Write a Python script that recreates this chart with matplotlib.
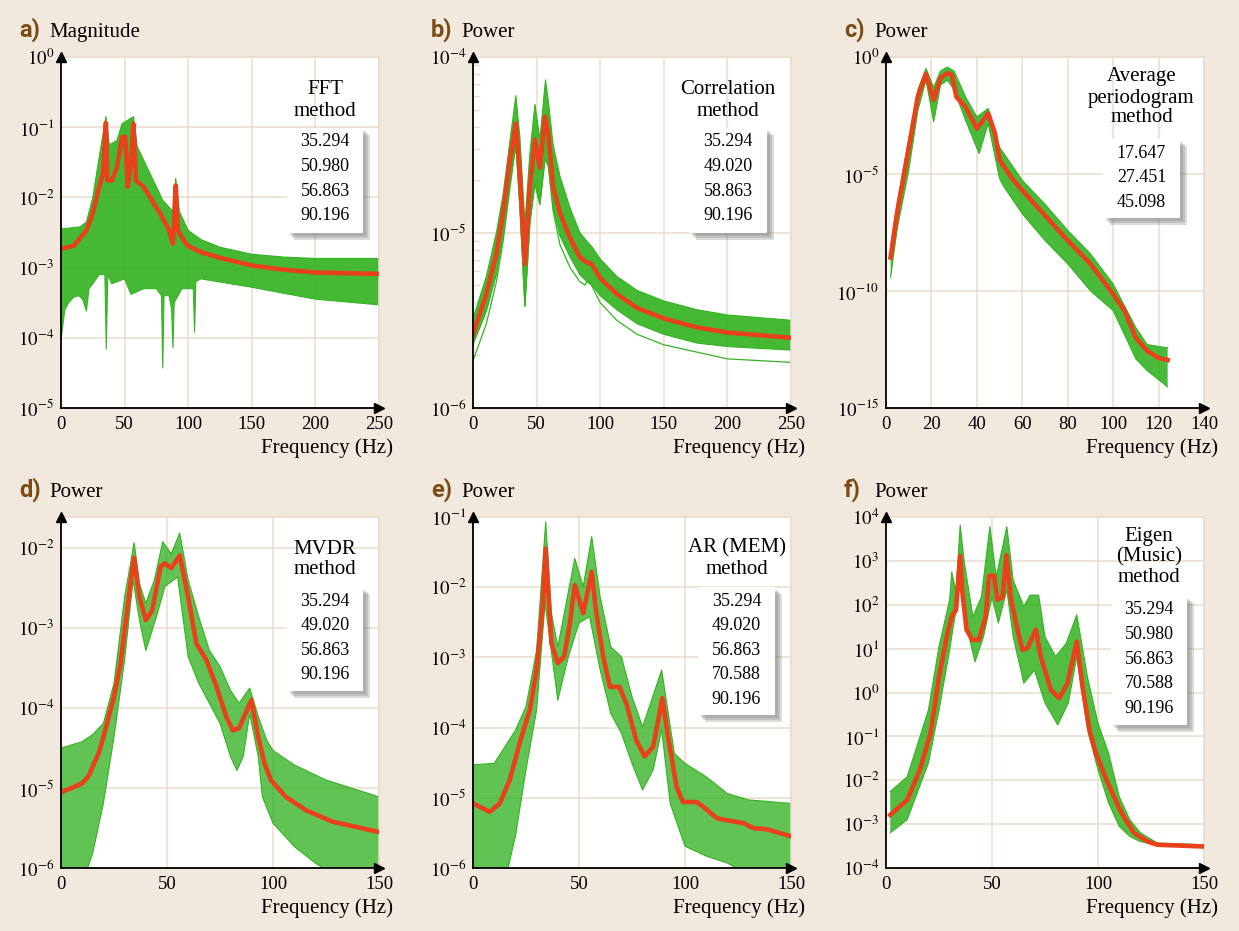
import numpy as np
import matplotlib
matplotlib.use("Agg")
import matplotlib.pyplot as plt
from matplotlib.patches import Rectangle
import matplotlib.ticker as ticker

plt.rcParams['mathtext.fontset'] = 'stix'
plt.rcParams['font.family'] = ['Liberation Serif', 'DejaVu Serif']

W, H = 1239, 931
BG = '#f2e9de'
GRID = '#eadccb'
GREEN = '#35b323'
RED = '#e8411c'
BROWN = '#7b4b12'

# values are log10 of magnitude / power

# a) FFT method
a_f_mean = [0, 10, 20, 25, 30, 33, 35.3, 36.5, 40, 44, 48, 50.5, 52.5, 55, 56.9, 59, 65, 70, 78, 85, 88,
            90.2, 92, 96, 100, 110, 125, 150, 175, 200, 250]
a_mean = [-2.73, -2.69, -2.47, -2.23, -1.85, -1.66, -0.94, -1.76, -1.76, -1.57, -1.14, -1.14, -1.85, -1.5,
          -0.95, -1.76, -1.85, -2.0, -2.23, -2.47, -2.66, -1.83, -2.47, -2.6, -2.69, -2.78, -2.86, -2.97,
          -3.03, -3.07, -3.09]
a_f_hi = [0, 15, 20, 25, 30, 35.3, 38, 44, 48, 57, 60, 70, 80, 88, 90.2, 93, 100, 110, 125, 150, 175, 200, 250]
a_hi = [-2.45, -2.42, -2.35, -2.0, -1.43, -0.85, -1.25, -1.19, -0.95, -0.85, -1.28, -1.66, -2.04, -2.2,
        -1.73, -2.2, -2.47, -2.6, -2.71, -2.81, -2.85, -2.87, -2.87]
a_f_lo = [0, 3, 6, 10, 14, 17, 20, 22, 25, 30, 34.5, 35.6, 36.8, 40, 50, 55, 65, 75, 79, 80, 81, 85, 87,
          88, 89, 95, 104, 105, 106, 110, 150, 200, 250]
a_lo = [-4.04, -3.6, -3.5, -3.42, -3.4, -3.45, -3.62, -3.3, -3.23, -3.1, -3.1, -4.16, -3.1, -3.23, -3.16,
        -3.38, -3.3, -3.3, -3.4, -4.43, -3.4, -3.4, -3.6, -4.14, -3.5, -3.3, -3.3, -3.92, -3.2, -3.16,
        -3.28, -3.45, -3.53]

# b) correlation method
b_f_mean = [0, 10.5, 18.4, 23.7, 29, 33.7, 36.8, 40.8, 44.7, 48.7, 52.6, 56.6, 59.2, 63, 68.4, 76.3, 84,
            89.5, 93.4, 100, 113, 129, 150, 176, 200, 250]
b_mean = [-5.58, -5.35, -5.12, -4.89, -4.59, -4.38, -4.66, -5.18, -4.74, -4.47, -4.63, -4.34, -4.44, -4.74,
          -4.89, -5.03, -5.14, -5.17, -5.18, -5.26, -5.35, -5.43, -5.49, -5.54, -5.57, -5.6]
b_f_hi = [0, 10.5, 18.4, 23.7, 29, 33.7, 36.8, 40.8, 44.7, 48.7, 52.6, 57, 59.2, 63, 68.4, 76.3, 84, 89.5,
          93.4, 100, 113, 129, 150, 176, 200, 250]
b_hi = [-5.49, -5.25, -5.0, -4.78, -4.48, -4.22, -4.45, -4.95, -4.55, -4.27, -4.47, -4.13, -4.25, -4.5,
        -4.68, -4.86, -5.0, -5.05, -5.08, -5.15, -5.25, -5.33, -5.39, -5.44, -5.47, -5.5]
b_f_lo = [0, 10.5, 18.4, 23.7, 29, 33.7, 36.8, 40.8, 44.7, 48.7, 52.6, 56.6, 59.2, 63, 68.4, 76.3, 84,
          89.5, 93.4, 100, 113, 129, 150, 176, 200, 250]
b_lo = [-5.64, -5.45, -5.24, -5.02, -4.72, -4.5, -4.85, -5.42, -4.95, -4.72, -4.84, -4.58, -4.62, -4.86,
        -5.02, -5.14, -5.24, -5.28, -5.3, -5.36, -5.44, -5.52, -5.58, -5.63, -5.65, -5.67]
# the low-lying single lines of panel b
b_f_out = [0, 10.5, 18.4, 23.7, 29, 33.7, 36.8, 40.8, 44.7, 48.7, 52.6, 56.6, 59.2, 63, 68.4, 76.3, 84,
           88, 91, 100, 113, 129, 150, 200, 250]
b_out = [-5.73, -5.52, -5.28, -5.05, -4.75, -4.5, -4.85, -5.42, -4.95, -4.72, -4.84, -4.58, -4.62, -4.88,
         -5.07, -5.2, -5.28, -5.3, -5.27, -5.4, -5.5, -5.58, -5.64, -5.72, -5.74]

# c) average periodogram method
c_f_mean = [2, 5, 10, 14, 17.6, 21, 24, 27, 29, 31, 35, 40, 45, 48, 50, 55, 60, 70, 80, 90, 100, 105, 110,
            115, 120, 124]
c_mean = [-8.57, -6.6, -3.9, -1.7, -0.73, -1.84, -0.9, -0.69, -0.76, -1.71, -2.13, -3.06, -2.41, -3.27,
          -4.41, -5.13, -5.7, -6.77, -7.84, -8.84, -10.13, -10.84, -12.0, -12.56, -12.86, -12.95]
c_f_hi = [2, 5, 10, 14, 17.6, 21, 24, 27, 30, 35, 40, 45, 50, 60, 70, 80, 90, 100, 110, 115, 124]
c_hi = [-8.14, -6.2, -3.5, -1.4, -0.49, -1.3, -0.6, -0.43, -0.6, -1.7, -2.56, -2.2, -3.86, -5.27, -6.29,
        -7.41, -8.41, -9.7, -11.57, -12.29, -12.43]
c_f_lo = [2, 5, 10, 14, 17.6, 21, 24, 27, 30, 35, 41, 45, 50, 52, 60, 70, 80, 90, 100, 110, 115, 124]
c_lo = [-9.43, -7.3, -4.86, -2.3, -0.99, -2.77, -1.2, -0.99, -1.41, -2.7, -4.13, -2.84, -5.2, -5.56, -6.7,
        -7.84, -8.84, -9.99, -10.84, -12.9, -13.4, -14.1]

# d) MVDR method
d_f_mean = [0, 5, 10, 13, 15, 18, 20, 25, 28, 30, 33, 34.5, 37, 40, 43, 47, 49, 52, 56, 60, 63.8, 68.6,
            73.3, 78, 81, 84, 89.8, 93, 96, 99, 106, 115.7, 128, 150]
d_mean = [-5.05, -5.0, -4.94, -4.85, -4.73, -4.55, -4.36, -3.86, -3.45, -3.03, -2.4, -2.12, -2.61, -2.9,
          -2.78, -2.23, -2.19, -2.25, -2.09, -2.61, -3.19, -3.4, -3.73, -4.11, -4.28, -4.25, -3.9, -4.36,
          -4.69, -4.9, -5.11, -5.28, -5.42, -5.55]
d_f_hi = [0, 10, 15, 20, 25, 30, 34.5, 37, 40, 44, 48, 52, 56, 60, 65, 70, 75, 80, 84, 89, 93, 97, 100,
          110, 125, 150]
d_hi = [-4.5, -4.42, -4.33, -4.19, -3.69, -2.61, -1.93, -2.44, -2.69, -2.4, -1.92, -2.07, -1.81, -2.4,
        -2.86, -3.28, -3.48, -3.78, -3.94, -3.75, -4.1, -4.4, -4.53, -4.71, -4.9, -5.11]
d_f_lo = [0, 10, 15, 20, 25, 30, 34, 37, 40, 45, 49, 55, 60, 65, 70, 75, 80, 83, 86, 89, 93, 95, 100, 110,
          120, 130, 150]
d_lo = [-6.3, -6.2, -5.81, -5.19, -4.36, -3.4, -2.4, -2.9, -3.28, -2.86, -2.48, -2.36, -3.36, -3.69, -3.94,
        -4.19, -4.61, -4.78, -4.6, -4.07, -4.6, -5.11, -5.44, -5.73, -5.94, -6.1, -6.3]

# e) AR (MEM) method
e_f_mean = [0, 7.9, 12.6, 17.3, 22, 26.8, 30, 33, 34.3, 37, 40, 43, 45.7, 48, 52, 56, 58, 61.4, 64.6, 69,
            72.4, 77, 81, 85, 89.3, 92, 96, 99, 105.5, 108.7, 115, 119.7, 127.6, 132, 139, 150]
e_mean = [-5.08, -5.2, -5.08, -4.75, -4.22, -3.75, -3.18, -2.23, -1.45, -2.8, -3.08, -2.99, -2.51, -1.97,
          -2.37, -1.78, -2.33, -2.99, -3.42, -3.42, -3.66, -4.18, -4.41, -4.27, -3.58, -4.13, -4.84, -5.06,
          -5.06, -5.13, -5.29, -5.32, -5.36, -5.43, -5.45, -5.55]
e_f_hi = [0, 10, 20, 25, 30, 34.3, 37, 40, 48, 52, 56, 60, 65, 70, 75, 80, 89, 95, 100, 110, 120, 130, 150]
e_hi = [-4.53, -4.51, -4.04, -3.7, -2.9, -1.07, -2.37, -2.85, -1.59, -1.99, -1.28, -2.14, -2.85, -2.99,
        -3.56, -3.99, -3.18, -4.37, -4.51, -4.7, -4.94, -5.03, -5.08]
e_f_lo = [0, 15, 20, 25, 30, 34, 40, 45, 50, 55, 60, 65, 70, 75, 80, 85, 89, 93, 100, 110, 120, 130, 150]
e_lo = [-6.2, -6.2, -5.55, -4.6, -3.75, -2.23, -3.61, -2.99, -2.51, -2.42, -3.18, -3.8, -4.08, -4.51,
        -4.89, -4.6, -4.03, -5.08, -5.69, -5.83, -5.93, -6.1, -6.1]

# f) Eigen (Music) method
f_f_mean = [2, 10, 16, 21, 25, 29, 31, 33, 35, 36, 38, 40.7, 43.8, 47, 48.6, 51, 52.5, 55, 56.8, 58.8, 62,
            64.4, 66.7, 70.7, 73, 77.8, 81.7, 85.6, 90, 92.7, 96, 99, 104.6, 111, 117, 123.5, 128, 150]
f_mean = [-2.79, -2.45, -1.76, -0.93, 0.36, 1.35, 1.73, 1.88, 3.11, 2.3, 1.43, 1.2, 1.2, 1.73, 2.66, 2.66,
          2.11, 2.18, 3.13, 2.18, 1.43, 0.97, 1.01, 1.43, 0.82, 0.06, -0.13, 0.21, 1.16, 0.13, -0.85, -1.38,
          -2.06, -2.74, -3.2, -3.4, -3.47, -3.51]
f_f_hi = [2, 10, 20, 25, 30, 31, 33, 35, 37, 41, 45, 49, 52, 57, 60, 65, 68, 72, 75, 80, 85, 90, 95, 100,
          105, 110, 115, 120, 128, 150]
f_hi = [-2.26, -1.92, -0.4, 1.05, 2.11, 2.75, 2.3, 3.82, 2.95, 1.73, 2.18, 3.78, 2.64, 3.78, 2.56, 1.96,
        2.22, 2.22, 1.27, 0.82, 1.12, 1.77, 0.36, -0.7, -1.38, -2.37, -2.9, -3.2, -3.43, -3.47]
f_f_lo = [2, 10, 20, 25, 30, 33, 35, 38, 42, 46, 50, 53, 57, 60, 65, 70, 75, 81, 86, 90, 95, 100, 105, 110,
          115, 120, 128, 150]
f_lo = [-3.2, -2.9, -1.61, -0.4, 0.97, 1.88, 2.56, 1.5, 0.7, 1.27, 2.18, 1.58, 2.34, 1.27, 0.21, 0.51,
        -0.24, -0.74, -0.24, 0.82, -0.85, -1.76, -2.52, -3.05, -3.28, -3.4, -3.47, -3.51]

methods = [['FFT', 'method'], ['Correlation', 'method'], ['Average', 'periodogram', 'method'],
           ['MVDR', 'method'], ['AR (MEM)', 'method'], ['Eigen', '(Music)', 'method']]
peaks = [['35.294', '50.980', '56.863', '90.196'],
         ['35.294', '49.020', '58.863', '90.196'],
         ['17.647', '27.451', '45.098'],
         ['35.294', '49.020', '56.863', '90.196'],
         ['35.294', '49.020', '56.863', '70.588', '90.196'],
         ['35.294', '50.980', '56.863', '70.588', '90.196']]
letters = ['a)', 'b)', 'c)', 'd)', 'e)', 'f)']
ylabels = ['Magnitude', 'Power', 'Power', 'Power', 'Power', 'Power']

panels = [
    (a_f_mean, a_mean, a_f_hi, a_hi, a_f_lo, a_lo),
    (b_f_mean, b_mean, b_f_hi, b_hi, b_f_lo, b_lo),
    (c_f_mean, c_mean, c_f_hi, c_hi, c_f_lo, c_lo),
    (d_f_mean, d_mean, d_f_hi, d_hi, d_f_lo, d_lo),
    (e_f_mean, e_mean, e_f_hi, e_hi, e_f_lo, e_lo),
    (f_f_mean, f_mean, f_f_hi, f_hi, f_f_lo, f_lo),
]
xlims = [250, 250, 140, 150, 150, 150]
xsteps = [50, 50, 20, 50, 50, 50]
ylims = [(-5, 0), (-6, -4), (-15, 0), (-6, -1.61), (-6, -1), (-4, 4)]
ysteps = [1, 1, 5, 1, 1, 1]
band_alpha = [0.92, 0.92, 0.9, 0.78, 0.78, 0.86]

# layout in pixels: (left, top) of each plot area
lefts = [61, 473, 886]
tops = [57, 517]
AW, AH = 318, 351

# method text / box positions in pixels
box_px = [(287, 128, 363, 233), (689, 128, 767, 233), (1103, 139, 1180, 218),
          (287, 587, 363, 691), (698, 587, 775, 715), (1111, 596, 1187, 725)]
head_y = [[90, 111], [90, 111], [77, 98, 118], [549, 570], [548, 569], [536, 557, 578]]


def fx(x):
    return x / W


def fy(y):
    return 1 - y / H


def sci(v, pos=None):
    return r'$10^{%d}$' % int(round(v))


fig = plt.figure(figsize=(W / 100, H / 100), dpi=100, facecolor=BG)

for i, (fm, m, fh, hi, fl, lo) in enumerate(panels):
    col, row = i % 3, i // 3
    l, t = lefts[col], tops[row]
    ax = fig.add_axes([fx(l), fy(t + AH), AW / W, AH / H])
    ax.set_facecolor('white')

    # green ensemble band
    px = np.concatenate([fh, fl[::-1]])
    py = np.concatenate([hi, lo[::-1]])
    ax.fill(px, py, color=GREEN, alpha=band_alpha[i], lw=0, zorder=2)
    ax.plot(fh, hi, color=GREEN, lw=0.8, zorder=2)
    ax.plot(fl, lo, color=GREEN, lw=0.8, zorder=2)
    if i == 1:
        ax.plot(b_f_out, b_out, color=GREEN, lw=0.9, zorder=2)
    # mean curve
    ax.plot(fm, m, color=RED, lw=3.3, solid_joinstyle='round', zorder=3)

    y0, y1 = ylims[i]
    ax.set_xlim(0, xlims[i])
    ax.set_ylim(y0, y1)
    ax.set_xticks(np.arange(0, xlims[i] + 1, xsteps[i]))
    ax.set_yticks(np.arange(y0, np.floor(y1) + 0.01, ysteps[i]))
    ax.yaxis.set_major_formatter(ticker.FuncFormatter(sci))
    if i == 1:
        minors = []
        for dec in (-6, -5):
            for k in range(2, 10):
                minors.append(dec + np.log10(k))
        ax.set_yticks(minors, minor=True)
        ax.tick_params(axis='y', which='minor', direction='in', length=5, color=GRID, width=1)
    ax.grid(True, which='major', color=GRID, lw=1.1, zorder=0)
    ax.set_axisbelow(True)
    ax.tick_params(which='major', length=0, labelsize=13.5, pad=6)
    ax.tick_params(axis='y', labelsize=13.5, pad=5)
    for s in ('top', 'right'):
        ax.spines[s].set_color(GRID)
        ax.spines[s].set_linewidth(1.1)
    for s in ('left', 'bottom'):
        ax.spines[s].set_color('black')
        ax.spines[s].set_linewidth(1.3)
        ax.spines[s].set_zorder(5)
    ax.plot(1, 0, '>', color='black', ms=7, transform=ax.transAxes, clip_on=False, zorder=6)
    ax.plot(0, 1, '^', color='black', ms=7, transform=ax.transAxes, clip_on=False, zorder=6)

    ax.text(1 + 14 / AW, -40 / AH, 'Frequency (Hz)', transform=ax.transAxes, ha='right',
            va='center', fontsize=15)

    # panel heading
    fig.text(fx(l - 42), fy(t - 20), letters[i], fontsize=17, fontweight='bold', color=BROWN,
             family=['Liberation Sans Narrow', 'Roboto', 'DejaVu Sans'], va='baseline')
    fig.text(fx(l - 12), fy(t - 20), ylabels[i], fontsize=15, va='baseline')

    # method caption and peak box
    bx0, by0, bx1, by1 = box_px[i]
    cx = (bx0 + bx1) / 2
    for k, line in enumerate(methods[i]):
        fig.text(fx(cx), fy(head_y[i][k]), line, ha='center', va='center', fontsize=15, zorder=20)
    for k, off in enumerate((7, 5, 3)):
        fig.patches.append(Rectangle((fx(bx0 + off), fy(by1 + off)), (bx1 - bx0) / W, (by1 - by0) / H,
                                     transform=fig.transFigure, facecolor='#6e6e6e', alpha=0.24,
                                     lw=0, zorder=10))
    fig.patches.append(Rectangle((fx(bx0), fy(by1)), (bx1 - bx0) / W, (by1 - by0) / H,
                                 transform=fig.transFigure, facecolor='white', lw=0, zorder=11))
    for k, p in enumerate(peaks[i]):
        yy = by0 + 14 + k * 24.6
        fig.text(fx(cx), fy(yy), p, ha='center', va='center', fontsize=13, zorder=20)

fig.savefig('out.png', dpi=100, facecolor=BG)
